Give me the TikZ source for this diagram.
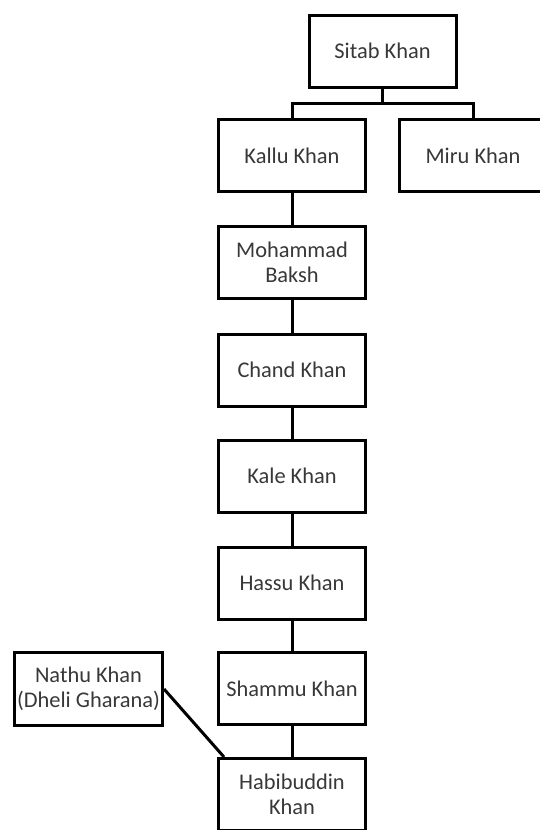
\documentclass[tikz,border=0pt]{standalone}
\usepackage{fontspec}
\setmainfont{Carlito}
\usetikzlibrary{calc}
\begin{document}
\begin{tikzpicture}[x=1pt,y=-1pt,
  person/.style={draw, line width=3pt, fill=white, minimum width=147pt, minimum height=72pt,
    inner sep=0pt, align=center, text=black!78, font=\fontsize{22.4}{25}\selectfont},
  link/.style={line width=3pt}]
\useasboundingbox (0,0) rectangle (540,830);
\fill[white] (0,0) rectangle (540,830);
\clip (0,0) rectangle (540,830);
\node[person] (sitab) at (382.5,51) {Sitab Khan};
\node[person] (kallu) at (292,155.5) {Kallu Khan};
\node[person] (miru) at (473,155.5) {Miru Khan};
\node[person] (moh) at (292,262.5) {Mohammad\\Baksh};
\node[person] (chand) at (292,370) {Chand Khan};
\node[person] (kale) at (292,476) {Kale Khan};
\node[person] (hassu) at (292,583) {Hassu Khan};
\node[person] (shammu) at (292,688.5) {Shammu Khan};
\node[person] (habib) at (292,794.5) {Habibuddin\\Khan};
\node[person, minimum width=148pt, minimum height=73pt] (nathu) at (88.5,689) {Nathu Khan\\(Dheli Gharana)};
\coordinate (bus) at (382.5,103);
\draw[link] (sitab.south) -- (bus);
\draw[link] (kallu.north) |- (bus) -| (miru.north);
\draw[link] (kallu) -- (moh);
\draw[link] (moh) -- (chand);
\draw[link] (chand) -- (kale);
\draw[link] (kale) -- (hassu);
\draw[link] (hassu) -- (shammu);
\draw[link] (shammu) -- (habib);
\draw[link] (nathu.east) -- ($(habib.north west)+(7,0)$);
\end{tikzpicture}
\end{document}
